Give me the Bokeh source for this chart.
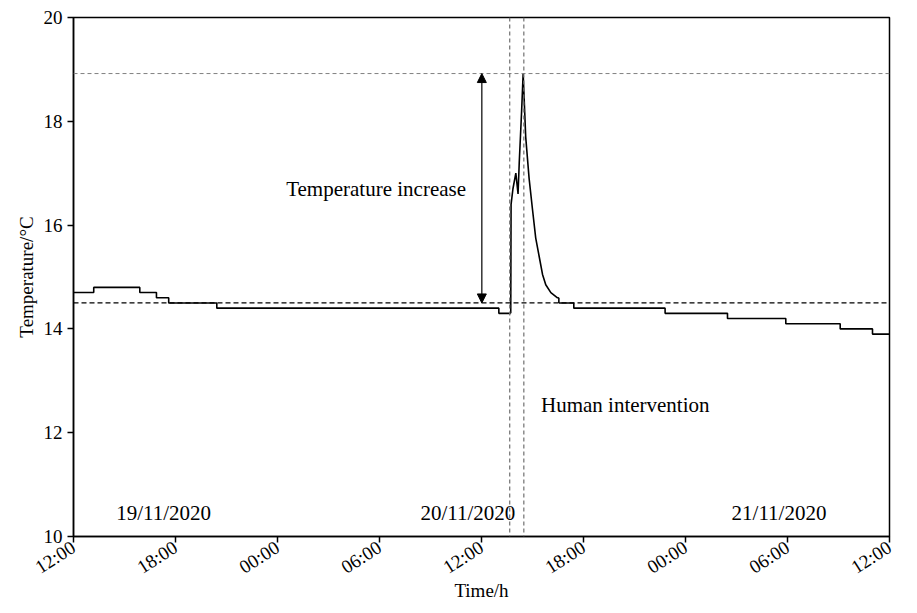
import math
from bokeh.plotting import figure
from bokeh.models import Span, Arrow, NormalHead, Label, FixedTicker
from bokeh.embed import file_html
from bokeh.resources import INLINE

# hours since 12:00 19/11/2020
before_t = [0, 1.19, 3.9, 4.88, 5.6, 8.43, 25.02, 25.72]
before_v = [14.7, 14.8, 14.7, 14.6, 14.5, 14.4, 14.3, 14.3]
spike_t = [25.72, 25.74, 25.85, 26.02, 26.15, 26.22, 26.36, 26.45, 26.6, 26.8,
           27.0, 27.19, 27.39, 27.59, 27.78, 28.08, 28.47, 28.55]
spike_v = [14.3, 16.4, 16.7, 17.0, 16.6, 17.2, 18.2, 18.92, 17.7, 16.9,
           16.3, 15.75, 15.4, 15.05, 14.85, 14.7, 14.6, 14.6]
after_t = [28.55, 29.43, 34.8, 38.47, 41.9, 45.1, 47.0, 48]
after_v = [14.5, 14.4, 14.3, 14.2, 14.1, 14.0, 13.9, 13.9]

tick_hours = [0, 6, 12, 18, 24, 30, 36, 42, 48]
tick_labels = ["12:00", "18:00", "00:00", "06:00", "12:00", "18:00", "00:00", "06:00", "12:00"]
y_ticks = [10, 12, 14, 16, 18, 20]

baseline = 14.5
peak = 18.92
intervention_start = 25.66
intervention_end = 26.49
arrow_x = 24.02

date_labels = ["19/11/2020", "20/11/2020", "21/11/2020"]
date_x = [5.3, 23.2, 41.5]
date_y = 10.45

FONT = "Liberation Serif"

p = figure(width=917, height=613, x_range=(0, 48), y_range=(10, 20),
           output_backend="svg", toolbar_location=None,
           min_border_left=73, min_border_right=28, min_border_top=17, min_border_bottom=77)
p.frame_width = 816
p.frame_height = 519
p.grid.visible = False
p.outline_line_color = "black"
p.outline_line_width = 1.5
p.background_fill_color = "white"
p.border_fill_color = "white"

for ax in (p.xaxis[0], p.yaxis[0]):
    ax.axis_line_width = 1.5
    ax.major_tick_line_width = 1.5
    ax.major_tick_out = 6
    ax.major_tick_in = 0
    ax.minor_tick_line_color = None
    ax.major_label_text_font = FONT
    ax.major_label_text_font_size = "19px"
    ax.major_label_text_color = "black"
    ax.axis_label_text_font = FONT
    ax.axis_label_text_font_size = "19px"
    ax.axis_label_text_font_style = "normal"
    ax.axis_label_text_color = "black"

p.xaxis.ticker = FixedTicker(ticks=tick_hours)
p.xaxis.major_label_overrides = {h: l for h, l in zip(tick_hours, tick_labels)}
p.xaxis.major_label_orientation = math.pi / 5.5
p.xaxis.major_label_standoff = 3
p.xaxis.axis_label = "Time/h"
p.xaxis.axis_label_standoff = -10
p.yaxis.ticker = FixedTicker(ticks=y_ticks)
p.yaxis.axis_label = "Temperature/°C"
p.yaxis.axis_label_standoff = 4

# reference lines
p.add_layout(Span(location=baseline, dimension="width", line_color="black",
                  line_dash="5 3", line_width=1.3))
p.add_layout(Span(location=peak, dimension="width", line_color="#808080",
                  line_dash="4 3", line_width=1))
for xv in (intervention_start, intervention_end):
    p.add_layout(Span(location=xv, dimension="height", line_color="#707070",
                      line_dash="4 3", line_width=1.2))

# data
p.step(before_t, before_v, mode="after", line_color="black", line_width=1.6)
p.line(spike_t, spike_v, line_color="black", line_width=1.6)
p.step(after_t, after_v, mode="after", line_color="black", line_width=1.6)
p.line([after_t[0], after_t[0]], [spike_v[-1], after_v[0]], line_color="black", line_width=1.6)

# arrow
p.add_layout(Arrow(x_start=arrow_x, y_start=baseline, x_end=arrow_x, y_end=peak,
                   line_color="black", line_width=1.2,
                   start=NormalHead(size=9, fill_color="black", line_color="black"),
                   end=NormalHead(size=9, fill_color="black", line_color="black")))

p.add_layout(Label(x=17.8, y=16.7, text="Temperature increase", text_font=FONT,
                   text_font_size="21px", text_align="center", text_baseline="middle",
                   text_color="black"))
p.add_layout(Label(x=27.5, y=12.53, text="Human intervention", text_font=FONT,
                   text_font_size="21px", text_align="left", text_baseline="middle",
                   text_color="black"))
for lbl, xv in zip(date_labels, date_x):
    p.add_layout(Label(x=xv, y=date_y, text=lbl, text_font=FONT,
                       text_font_size="21px", text_align="center", text_baseline="middle",
                       text_color="black"))

open("out.html", "w").write(file_html(p, INLINE))
